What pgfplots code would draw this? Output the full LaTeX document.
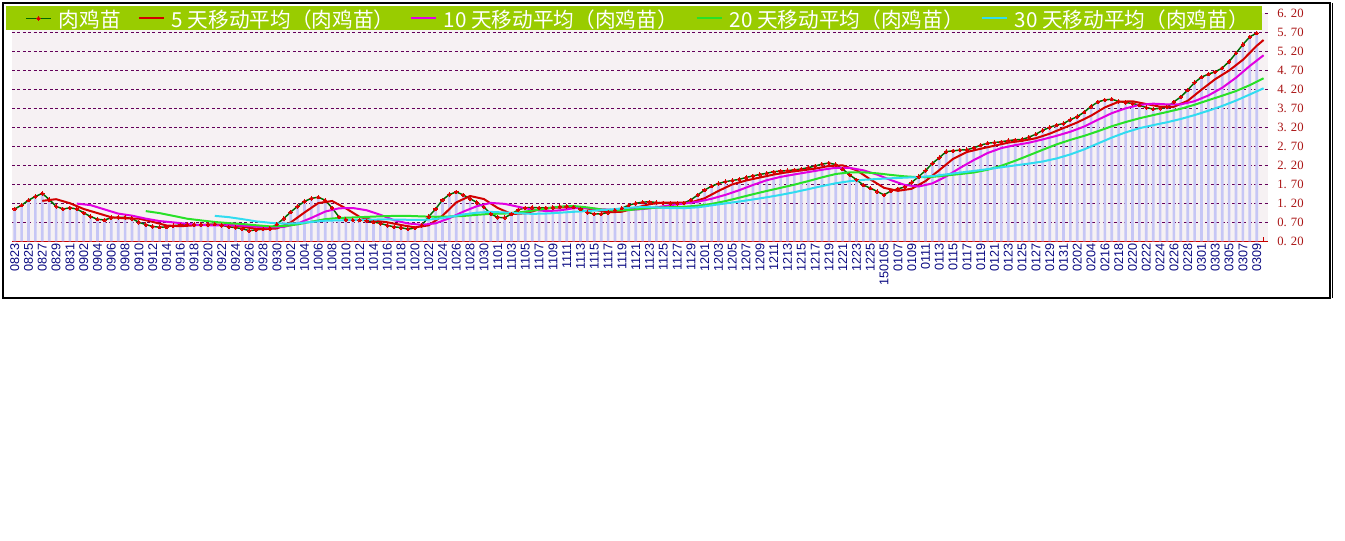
\documentclass[border=0pt]{standalone}
\usepackage{pgfplots}
\pgfplotsset{compat=1.18}
\usepackage{pgfplotstable}
\usepackage{fontspec}
\setmainfont{Liberation Serif}
\newfontfamily\cjk{Noto Sans CJK SC}
\newfontfamily\xlab{Liberation Sans}
\definecolor{band}{RGB}{153,204,0}
\definecolor{plotbg}{RGB}{246,241,243}
\definecolor{barc}{RGB}{198,198,245}
\definecolor{pricegreen}{RGB}{0,105,0}
\definecolor{markred}{RGB}{220,0,0}
\definecolor{maA}{RGB}{210,0,0}
\definecolor{maB}{RGB}{225,0,225}
\definecolor{maC}{RGB}{40,225,40}
\definecolor{maD}{RGB}{50,220,240}
\definecolor{gridc}{RGB}{100,0,90}
\definecolor{axisred}{RGB}{200,0,0}
\definecolor{ylab}{RGB}{170,20,20}
\definecolor{xlabc}{RGB}{10,10,130}

\pgfplotstableread{
i v
0 1.05
1 1.15
2 1.28
3 1.38
4 1.46
5 1.30
6 1.12
7 1.05
8 1.08
9 1.05
10 0.95
11 0.85
12 0.78
13 0.76
14 0.82
15 0.83
16 0.83
17 0.80
18 0.70
19 0.64
20 0.59
21 0.57
22 0.58
23 0.61
24 0.63
25 0.64
26 0.64
27 0.64
28 0.64
29 0.65
30 0.62
31 0.58
32 0.56
33 0.53
34 0.48
35 0.50
36 0.52
37 0.54
38 0.65
39 0.80
40 0.97
41 1.12
42 1.25
43 1.33
44 1.36
45 1.28
46 1.08
47 0.84
48 0.77
49 0.76
50 0.76
51 0.74
52 0.71
53 0.67
54 0.62
55 0.58
56 0.56
57 0.52
58 0.55
59 0.62
60 0.85
61 1.05
62 1.29
63 1.43
64 1.50
65 1.42
66 1.32
67 1.22
68 1.10
69 0.92
70 0.83
71 0.82
72 0.92
73 1.03
74 1.08
75 1.09
76 1.08
77 1.08
78 1.09
79 1.11
80 1.12
81 1.10
82 1.05
83 0.96
84 0.92
85 0.92
86 0.96
87 1.02
88 1.07
89 1.15
90 1.20
91 1.23
92 1.24
93 1.22
94 1.21
95 1.20
96 1.20
97 1.21
98 1.29
99 1.42
100 1.55
101 1.65
102 1.72
103 1.77
104 1.80
105 1.83
106 1.88
107 1.92
108 1.96
109 1.99
110 2.03
111 2.05
112 2.06
113 2.08
114 2.10
115 2.14
116 2.18
117 2.23
118 2.26
119 2.22
120 2.10
121 1.95
122 1.82
123 1.68
124 1.60
125 1.51
126 1.42
127 1.53
128 1.58
129 1.63
130 1.75
131 1.90
132 2.06
133 2.25
134 2.40
135 2.56
136 2.58
137 2.60
138 2.61
139 2.66
140 2.73
141 2.78
142 2.80
143 2.82
144 2.85
145 2.87
146 2.88
147 2.94
148 3.02
149 3.12
150 3.20
151 3.26
152 3.30
153 3.40
154 3.48
155 3.60
156 3.75
157 3.87
158 3.92
159 3.94
160 3.88
161 3.85
162 3.83
163 3.78
164 3.72
165 3.68
166 3.70
167 3.73
168 3.87
169 4.00
170 4.18
171 4.38
172 4.52
173 4.60
174 4.66
175 4.76
176 4.93
177 5.15
178 5.38
179 5.58
180 5.68
}\price

\pgfplotstableread{
i v
4 1.264
6 1.308
8 1.202
10 1.050
12 0.942
14 0.832
16 0.804
18 0.796
20 0.712
22 0.616
24 0.596
26 0.620
28 0.638
30 0.638
32 0.610
34 0.554
36 0.518
38 0.538
40 0.696
42 0.958
44 1.206
46 1.260
48 1.066
50 0.842
52 0.748
54 0.700
56 0.628
58 0.566
60 0.620
62 0.872
64 1.224
66 1.392
68 1.312
70 1.078
72 0.918
74 0.936
76 1.040
78 1.084
80 1.096
82 1.094
84 1.030
86 0.962
88 0.978
90 1.080
92 1.178
94 1.220
96 1.214
98 1.222
100 1.334
102 1.526
104 1.698
106 1.800
108 1.878
110 1.956
112 2.018
114 2.064
116 2.112
118 2.182
120 2.198
122 2.070
124 1.830
126 1.606
128 1.528
130 1.582
132 1.784
134 2.072
136 2.370
138 2.550
140 2.636
142 2.716
144 2.796
146 2.844
148 2.912
150 3.032
152 3.180
154 3.328
156 3.506
158 3.724
160 3.872
162 3.884
164 3.812
166 3.742
168 3.740
170 3.896
172 4.190
174 4.468
176 4.694
178 4.976
180 5.344
181 5.498
}\mafive

\pgfplotstableread{
i v
9 1.192
11 1.152
13 1.040
15 0.929
17 0.875
19 0.796
21 0.732
23 0.697
25 0.659
27 0.624
29 0.619
31 0.623
33 0.613
35 0.584
37 0.562
39 0.578
41 0.667
43 0.816
45 0.982
47 1.068
49 1.076
51 1.017
53 0.897
55 0.753
57 0.669
59 0.633
61 0.673
63 0.807
65 0.979
67 1.125
69 1.210
71 1.185
73 1.108
75 1.033
77 0.995
79 1.013
81 1.070
83 1.076
85 1.043
87 1.025
89 1.027
91 1.048
93 1.093
95 1.150
97 1.193
99 1.242
101 1.319
103 1.422
105 1.544
107 1.683
109 1.807
111 1.895
113 1.960
115 2.021
117 2.082
119 2.135
121 2.132
123 2.068
125 1.955
127 1.809
129 1.682
131 1.642
133 1.723
135 1.908
137 2.131
139 2.337
141 2.523
143 2.654
145 2.730
147 2.794
149 2.881
151 2.976
153 3.084
155 3.220
157 3.400
159 3.572
161 3.699
163 3.790
165 3.822
167 3.803
169 3.804
171 3.887
173 4.038
175 4.240
177 4.505
179 4.814
181 5.096
}\maten

\pgfplotstableread{
i v
19 0.994
21 0.942
23 0.869
25 0.794
27 0.750
29 0.708
31 0.678
33 0.655
35 0.622
37 0.593
39 0.599
41 0.645
43 0.715
45 0.783
47 0.815
49 0.827
51 0.842
53 0.857
55 0.868
57 0.869
59 0.855
61 0.845
63 0.852
65 0.866
67 0.897
69 0.922
71 0.929
73 0.958
75 1.006
77 1.060
79 1.112
81 1.128
83 1.092
85 1.038
87 1.010
89 1.020
91 1.059
93 1.085
95 1.097
97 1.109
99 1.135
101 1.184
103 1.258
105 1.347
107 1.438
109 1.525
111 1.607
113 1.691
115 1.783
117 1.883
119 1.971
121 2.014
123 2.014
125 1.988
127 1.946
129 1.909
131 1.887
133 1.896
135 1.932
137 1.970
139 2.010
141 2.083
143 2.189
145 2.319
147 2.463
149 2.609
151 2.750
153 2.869
155 2.975
157 3.097
159 3.227
161 3.338
163 3.437
165 3.521
167 3.602
169 3.688
171 3.793
173 3.914
175 4.031
177 4.154
179 4.309
181 4.490
}\matwenty

\pgfplotstableread{
i v
29 0.869
31 0.836
33 0.783
35 0.724
37 0.687
39 0.664
41 0.674
43 0.709
45 0.742
47 0.751
49 0.758
51 0.769
53 0.775
55 0.773
57 0.766
59 0.762
61 0.786
63 0.840
65 0.905
67 0.954
69 0.973
71 0.958
73 0.937
75 0.922
77 0.930
79 0.952
81 0.976
83 0.997
85 1.018
87 1.048
89 1.083
91 1.101
93 1.092
95 1.075
97 1.071
99 1.094
101 1.146
103 1.197
105 1.246
107 1.300
109 1.359
111 1.421
113 1.492
115 1.572
117 1.653
119 1.728
121 1.782
123 1.817
125 1.840
127 1.858
129 1.875
131 1.890
133 1.917
135 1.961
137 2.007
139 2.051
141 2.099
143 2.148
145 2.198
147 2.245
149 2.300
151 2.380
153 2.487
155 2.619
157 2.775
159 2.930
161 3.066
163 3.176
165 3.257
167 3.332
169 3.419
171 3.521
173 3.637
175 3.761
177 3.903
179 4.063
181 4.227
}\mathirty

\begin{document}
\begin{tikzpicture}
\path[use as bounding box, fill=white] (0,0) rectangle (1008.75pt,405.75pt);
\begin{axis}[
  at={(9pt,224.775pt)}, anchor=south west,
  scale only axis, width=942pt, height=171pt,
  xmin=-0.39, xmax=181.64, ymin=0.2, ymax=6.2,
  axis background/.style={fill=plotbg},
  axis line style={draw=none},
  axis x line*=bottom,
  x axis line style={-, draw=axisred, line width=0.9pt},
  xtick pos=bottom, ytick pos=right,
  tick align=inside,
  major tick length=3pt, minor tick length=3pt,
  xtick style={color=axisred, line width=0.75pt},
  minor tick style={color=axisred, line width=0.75pt},
  ytick style={draw=none},
  xtick={0,2,...,180},
  minor xtick={1,3,...,181},
  xticklabels={0823,0825,0827,0829,0831,0902,0904,0906,0908,0910,0912,0914,0916,0918,0920,0922,0924,0926,0928,0930,1002,1004,1006,1008,1010,1012,1014,1016,1018,1020,1022,1024,1026,1028,1030,1101,1103,1105,1107,1109,1111,1113,1115,1117,1119,1121,1123,1125,1127,1129,1201,1203,1205,1207,1209,1211,1213,1215,1217,1219,1221,1223,1225,150105,0107,0109,0111,0113,0115,0117,0119,0121,0123,0125,0127,0129,0131,0202,0204,0216,0218,0220,0222,0224,0226,0228,0301,0303,0305,0307,0309},
  xticklabel style={rotate=90, anchor=east, inner sep=1.5pt, text=xlabc, font=\xlab\fontsize{9.5pt}{10pt}\selectfont},
  ytick={0.2,0.7,1.2,1.7,2.2,2.7,3.2,3.7,4.2,4.7,5.2,5.7,6.2},
  yticklabels={0. 20,0. 70,1. 20,1. 70,2. 20,2. 70,3. 20,3. 70,4. 20,4. 70,5. 20,5. 70,6. 20},
  yticklabel style={anchor=west, inner sep=0pt, xshift=6.75pt, text=ylab, font=\fontsize{9.5pt}{10pt}\selectfont},
  ymajorgrids,
  grid style={color=gridc, line width=0.75pt, dash pattern=on 2.25pt off 1.8pt},
  legend image code/.code={\draw[mark repeat=2,mark phase=2,#1] plot coordinates {(0pt,0pt) (9.375pt,0pt) (18.75pt,0pt)};},
  legend columns=5,
  legend cell align=left,
  legend style={at={(axis description cs:-0.00478,1.032)}, anchor=north west,
    fill=band, draw=none, inner xsep=14.25pt, inner ysep=2.25pt,
    /tikz/column sep=0pt,
    nodes={inner sep=0pt, text height=13.5pt, text depth=0pt, text=white, font=\cjk\fontsize{15.5pt}{16pt}\selectfont}},
]
\addplot[ybar, bar width=2pt, fill=barc, draw=none, forget plot] table[x=i, y=v] {\price};
\addplot[color=pricegreen, line width=1.1pt, mark=*, mark size=1.3pt, mark options={fill=markred, draw=markred, line width=0pt}] table[x=i, y=v] {\price};
\addlegendentry{\hspace{5.25pt}\makebox[59.25pt][l]{肉鸡苗}}
\addplot[color=maA, line width=1.5pt, no markers] table[x=i, y=v] {\mafive};
\addlegendentry{\hspace{5.25pt}\makebox[178.5pt][l]{5 天移动平均（肉鸡苗）}}
\addplot[color=maB, line width=1.5pt, no markers] table[x=i, y=v] {\maten};
\addlegendentry{\hspace{5.25pt}\makebox[189pt][l]{10 天移动平均（肉鸡苗）}}
\addplot[color=maC, line width=1.5pt, no markers] table[x=i, y=v] {\matwenty};
\addlegendentry{\hspace{5.25pt}\makebox[188.25pt][l]{20 天移动平均（肉鸡苗）}}
\addplot[color=maD, line width=1.5pt, no markers] table[x=i, y=v] {\mathirty};
\addlegendentry{\hspace{5.25pt}\makebox[171pt][l]{30 天移动平均（肉鸡苗）}}
\end{axis}
\draw[black, line width=0.9pt] (2.25pt,182.25pt) rectangle (997.5pt,403.5pt);
\draw[black, line width=0.9pt] (999.2pt,182.25pt) -- (999.2pt,403.5pt);
\end{tikzpicture}
\end{document}
